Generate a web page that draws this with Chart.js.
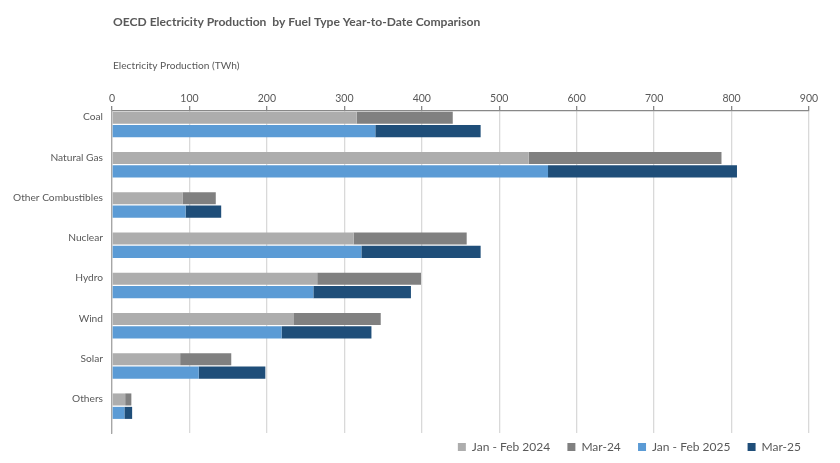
<!DOCTYPE html>
<html>
<head>
<meta charset="utf-8">
<script src="https://cdn.jsdelivr.net/npm/chart.js@4"></script>
<style>
  html, body { margin: 0; padding: 0; background: #fff; }
  #wrap { width: 840px; height: 463px; }
</style>
</head>
<body>
<div id="wrap"><canvas id="chart"></canvas></div>
<script>
const categories = ["Coal", "Natural Gas", "Other Combustibles", "Nuclear", "Hydro", "Wind", "Solar", "Others"];
const janFeb2024 = [316, 538, 91, 312, 265, 235, 88, 17];
const mar2024 = [124, 249, 43, 146, 134, 112, 66, 8];
const janFeb2025 = [340, 563, 95, 322, 260, 219, 112, 16];
const mar2025 = [136, 244, 46, 154, 126, 116, 86, 10];
const spacer = [0, 0, 0, 0, 0, 0, 0, 0];
const xTicks = [0, 100, 200, 300, 400, 500, 600, 700, 800, 900];

const FONT = "Lato, 'Open Sans', sans-serif";
const TEXT = "#595959";

// title and axis title drawn straight on the canvas
const textPlugin = {
  id: "texts",
  afterDraw(chart) {
    const ctx = chart.ctx;
    ctx.save();
    ctx.fillStyle = TEXT;
    ctx.textAlign = "left";
    ctx.textBaseline = "middle";
    ctx.font = "bold 12.1px " + FONT;
    ctx.fillText("OECD Electricity Production  by Fuel Type Year-to-Date Comparison", 113, 22);
    ctx.font = "10.2px " + FONT;
    ctx.fillText("Electricity Production (TWh)", 113, 66);
    ctx.restore();
  }
};

new Chart(document.getElementById("chart"), {
  type: "bar",
  data: {
    labels: categories,
    datasets: [
      { label: "Jan - Feb 2024", data: janFeb2024, stack: "y2024", backgroundColor: "#ADADAD" },
      { label: "Mar-24", data: mar2024, stack: "y2024", backgroundColor: "#808080" },
      { label: "Jan - Feb 2025", data: janFeb2025, stack: "y2025", backgroundColor: "#5B9BD5" },
      { label: "Mar-25", data: mar2025, stack: "y2025", backgroundColor: "#1F4E79" },
      { label: "", data: spacer, stack: "gap", backgroundColor: "rgba(0,0,0,0)" }
    ]
  },
  options: {
    indexAxis: "y",
    responsive: true,
    maintainAspectRatio: false,
    animation: false,
    categoryPercentage: 1.0,
    barPercentage: 0.9,
    layout: { padding: { top: 0, right: 31, bottom: 0, left: 0 } },
    plugins: {
      legend: {
        position: "bottom",
        align: "end",
        labels: {
          boxWidth: 8,
          boxHeight: 8,
          padding: 8,
          color: TEXT,
          font: { family: FONT, size: 12 },
          generateLabels: (chart) => {
            const items = Chart.defaults.plugins.legend.labels.generateLabels(chart)
              .filter(it => it.text !== "");
            // wider gaps between entries
            items.forEach((it, i) => { if (i < items.length - 1) it.text += "   "; });
            return items;
          }
        }
      },
      tooltip: { enabled: false }
    },
    scales: {
      x: {
        position: "top",
        stacked: true,
        min: 0,
        max: 900,
        afterBuildTicks: (scale) => {
          scale.ticks = xTicks.map(v => ({ value: v }));
        },
        afterFit: (scale) => { scale.height = 111; },
        grid: {
          color: "#D9D9D9",
          lineWidth: 1.3,
          tickColor: "#888888",
          tickLength: 5
        },
        border: { color: "#888888", width: 1.3 },
        ticks: {
          color: TEXT,
          padding: 1,
          font: { family: FONT, size: 10.5 }
        }
      },
      y: {
        stacked: true,
        afterFit: (scale) => { scale.width = 112; },
        grid: { display: false, drawTicks: false },
        border: { color: "#A6A6A6", width: 1.3 },
        ticks: {
          color: TEXT,
          padding: 9,
          labelOffset: -14,
          font: { family: FONT, size: 10.2 }
        }
      }
    }
  },
  plugins: [textPlugin]
});
</script>
</body>
</html>
